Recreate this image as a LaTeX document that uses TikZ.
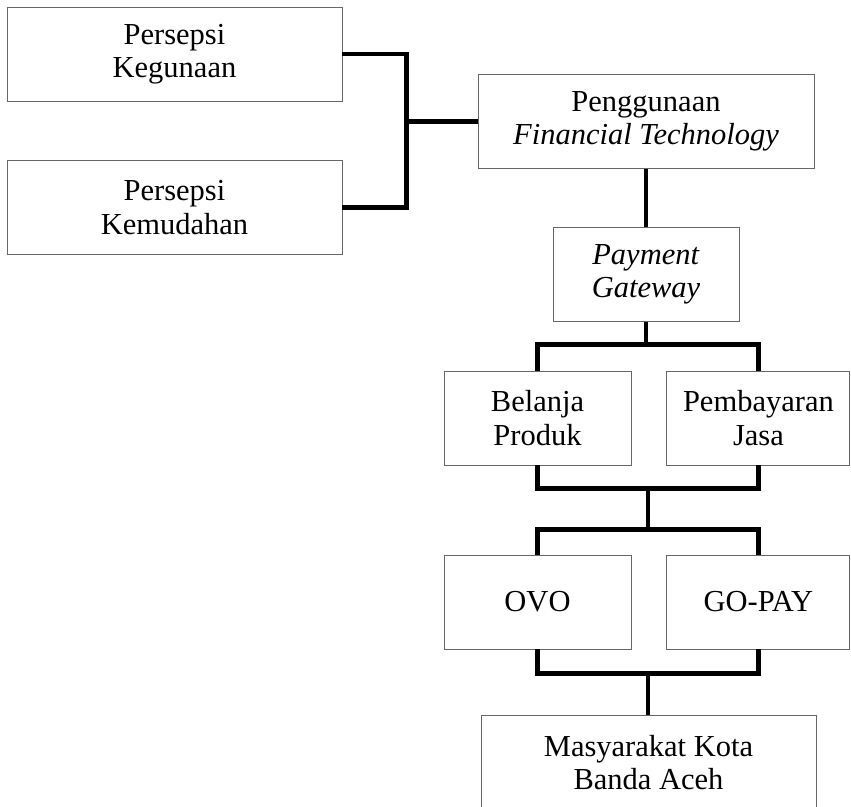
\documentclass[tikz,border=0pt]{standalone}
\usepackage{fontspec}
\setmainfont{Liberation Serif}
\usetikzlibrary{positioning,calc}

\begin{document}
\begin{tikzpicture}[x=1pt, y=-1pt,
  node distance=35pt,
  box/.style={draw=black!60, line width=0.9pt, minimum height=94pt, inner sep=0pt, align=center, font=\fontsize{30.5}{33.5}\selectfont},
  conn/.style={line width=4.5pt, line join=miter}]
\useasboundingbox (0,0) rectangle (851,806);
\node[box, minimum width=335pt] (keg) at (174.5,54) {Persepsi\\Kegunaan};
\node[box, minimum width=335pt] (kem) at (174.5,207.5) {Persepsi\\Kemudahan};
\node[box, minimum width=336pt] (fin) at (646,121.5) {Penggunaan\\\textit{Financial Technology}};
\node[box, minimum width=186pt] (pay) at (646,274.5) {\textit{Payment}\\\textit{Gateway}};
\node[box, minimum width=187pt] (bel) at (537.5,418) {Belanja\\Produk};
\node[box, minimum width=183pt, right=of bel] (jas) {Pembayaran\\Jasa};
\node[box, minimum width=187pt] (ovo) at (537.5,602) {OVO};
\node[box, minimum width=183pt, right=of ovo] (gop) {GO-PAY};
\node[box, minimum width=335pt] (mas) at (648.5,762.5) {Masyarakat Kota\\Banda Aceh};
% persepsi ke penggunaan
\draw[conn] (keg.east) -- ++(64,0) coordinate (b1) |- (kem.east);
\draw[conn] (b1 |- fin.west) -- (fin.west);
\draw[conn] (fin.south) -- (pay.north);
% cabang payment gateway
\draw[conn] (bel.north) -- ++(0,-26) coordinate (j1) -| (jas.north);
\draw[conn] (pay.south) -- (pay.south |- j1);
\draw[conn] (bel.south) -- ++(0,23) coordinate (j2) -| (jas.south);
\coordinate (m2) at ($(bel.south |- j2)!0.5!(jas.south |- j2)$);
\draw[conn] (ovo.north) -- ++(0,-25) coordinate (j3) -| (gop.north);
\draw[conn] (m2) -- (m2 |- j3);
\draw[conn] (ovo.south) -- ++(0,24) coordinate (j4) -| (gop.south);
\coordinate (m4) at ($(ovo.south |- j4)!0.5!(gop.south |- j4)$);
\draw[conn] (m4) -- (m4 |- mas.north);
\end{tikzpicture}
\end{document}
